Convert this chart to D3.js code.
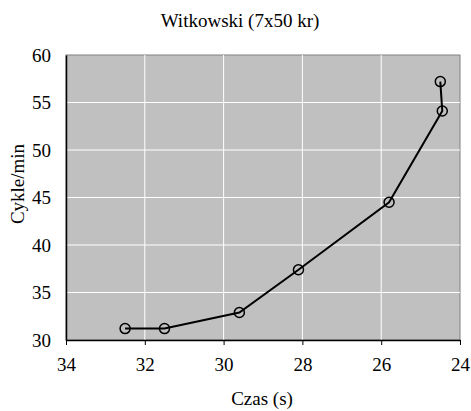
<!DOCTYPE html>
<html>
<head>
<meta charset="utf-8">
<script src="https://cdn.jsdelivr.net/npm/d3@7"></script>
<style>
  body { margin: 0; background: #fff; }
  svg text { font-family: "Liberation Serif", "Times New Roman", serif !important; }
</style>
</head>
<body>
<div id="chart"></div>
<script>
'use strict';

// czas (s) vs cykle/min
var czas = [32.5, 31.5, 29.6, 28.1, 25.8, 24.45, 24.5];
var cykle = [31.2, 31.2, 32.9, 37.4, 44.5, 54.1, 57.2];
var xTicks = [34, 32, 30, 28, 26, 24];
var yTicks = [30, 35, 40, 45, 50, 55, 60];

var width = 471, height = 411;
var margin = {top: 55, right: 11, bottom: 71, left: 66};

var svg = d3.select('#chart').append('svg')
  .attr('width', width).attr('height', height);

var x = d3.scaleLinear().domain([34, 24]).range([margin.left, width - margin.right]);
var y = d3.scaleLinear().domain([30, 60]).range([height - margin.bottom, margin.top]);

// plot area
svg.append('rect')
  .attr('x', x(34)).attr('y', y(60))
  .attr('width', x(24) - x(34)).attr('height', y(30) - y(60))
  .attr('fill', '#c0c0c0').attr('stroke', '#808080').attr('stroke-width', 1);

// grid
svg.append('g').selectAll('line').data(xTicks.slice(1, -1)).enter().append('line')
  .attr('x1', function(d) { return x(d); }).attr('x2', function(d) { return x(d); })
  .attr('y1', y(30)).attr('y2', y(60))
  .attr('stroke', '#fff').attr('stroke-width', 1);
svg.append('g').selectAll('line').data(yTicks.slice(1, -1)).enter().append('line')
  .attr('x1', x(34)).attr('x2', x(24))
  .attr('y1', function(d) { return y(d); }).attr('y2', function(d) { return y(d); })
  .attr('stroke', '#fff').attr('stroke-width', 1);

// axes
var xAxis = svg.append('g').attr('transform', 'translate(0,' + y(30) + ')')
  .call(d3.axisBottom(x).tickValues(xTicks).tickSizeInner(5).tickSizeOuter(0).tickPadding(13));
var yAxis = svg.append('g').attr('transform', 'translate(' + x(34) + ',0)')
  .call(d3.axisLeft(y).tickValues(yTicks).tickSize(0).tickPadding(15));
[xAxis, yAxis].forEach(function(a) {
  a.attr('font-size', 19);
  a.selectAll('text').attr('fill', '#000');
  a.select('.domain').attr('stroke', '#000').attr('stroke-width', 1.5);
  a.selectAll('.tick line').attr('stroke', '#000');
});

// line and markers
var pts = czas.map(function(c, i) { return [c, cykle[i]]; });
svg.append('path').datum(pts)
  .attr('fill', 'none').attr('stroke', '#000').attr('stroke-width', 2)
  .attr('d', d3.line().x(function(d) { return x(d[0]); }).y(function(d) { return y(d[1]); }));
svg.append('g').selectAll('circle').data(pts).enter().append('circle')
  .attr('cx', function(d) { return x(d[0]); })
  .attr('cy', function(d) { return y(d[1]); })
  .attr('r', 5).attr('fill', 'none').attr('stroke', '#000').attr('stroke-width', 1.5);

// titles
svg.append('text').attr('x', 240).attr('y', 27).attr('text-anchor', 'middle')
  .attr('font-size', 19).text('Witkowski (7x50 kr)');
svg.append('text').attr('x', 262).attr('y', 405).attr('text-anchor', 'middle')
  .attr('font-size', 19).text('Czas (s)');
svg.append('text').attr('transform', 'translate(24,184) rotate(-90)')
  .attr('text-anchor', 'middle').attr('font-size', 19).text('Cykle/min');
</script>
</body>
</html>
